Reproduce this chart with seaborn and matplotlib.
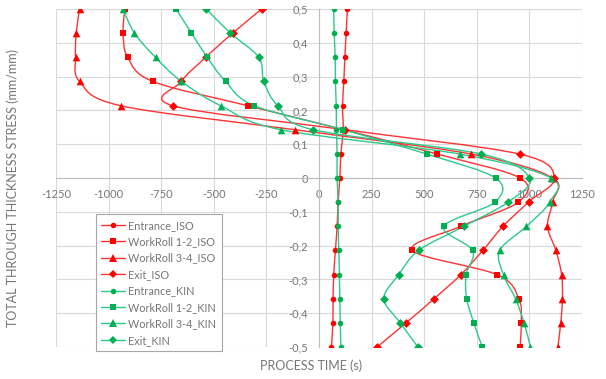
import numpy as np
import seaborn as sns
from matplotlib import pyplot as plt
from matplotlib.path import Path
from matplotlib.patches import PathPatch
from matplotlib.lines import Line2D

# thickness positions (mm/mm), same for every series
thickness = [0.5, 0.429, 0.357, 0.286, 0.214, 0.143, 0.071, 0.0,
             -0.071, -0.143, -0.214, -0.286, -0.357, -0.429, -0.5]

entrance_iso = [135, 129, 123, 118, 112, 115, 104, 99, 91, 86, 78, 70, 67, 66, 59]
workroll12_iso = [-923, -931, -909, -790, -338, 120, 562, 956, 948, 673, 444, 847, 950, 961, 956]
workroll34_iso = [-1138, -1154, -1157, -1138, -942, -115, 723, 1111, 1110, 1086, 1126, 1153, 1157, 1149, 1135]
exit_iso = [-273, -410, -539, -654, -695, 125, 953, 1119, 996, 874, 779, 674, 547, 413, 276]

entrance_kin = [70, 72, 77, 78, 82, 83, 86, 86, 91, 91, 94, 97, 99, 101, 104]
workroll12_kin = [-679, -606, -531, -444, -307, 115, 512, 839, 837, 593, 730, 699, 702, 736, 776]
workroll34_kin = [-932, -877, -777, -654, -467, -181, 669, 1104, 1096, 986, 859, 877, 934, 975, 1005]
exit_kin = [-535, -421, -286, -262, -196, -28, 771, 1000, 899, 688, 474, 379, 308, 387, 470]

series_names = ['Entrance_ISO', 'WorkRoll 1-2_ISO', 'WorkRoll 3-4_ISO', 'Exit_ISO',
                'Entrance_KIN', 'WorkRoll 1-2_KIN', 'WorkRoll 3-4_KIN', 'Exit_KIN']
series_values = [entrance_iso, workroll12_iso, workroll34_iso, exit_iso,
                 entrance_kin, workroll12_kin, workroll34_kin, exit_kin]

x_ticks = [-1250, -1000, -750, -500, -250, 0, 250, 500, 750, 1000, 1250]
y_ticks = [-0.5, -0.4, -0.3, -0.2, -0.1, 0, 0.1, 0.2, 0.3, 0.4, 0.5]

RED = '#FF0000'
GREEN = '#00B050'
RED_LINE = '#FF3333'
GREEN_LINE = '#2CC98C'
colors = [RED] * 4 + [GREEN] * 4
line_colors = [RED_LINE] * 4 + [GREEN_LINE] * 4
markers = ['o', 's', '^', 'D'] * 2
msizes = [4, 4.5, 5.5, 4.5] * 2

sns.set_theme(style='white')
plt.rcParams['font.family'] = ['Lato', 'DejaVu Sans']
TXT = '#767676'


def smooth_path(xs, ys, t=1/6):
    # excel-like smoothed line: catmull-rom converted to cubic bezier
    pts = np.column_stack([xs, ys]).astype(float)
    n = len(pts)
    verts = [pts[0]]
    codes = [Path.MOVETO]
    for i in range(n - 1):
        p0 = pts[max(i - 1, 0)]
        p1 = pts[i]
        p2 = pts[i + 1]
        p3 = pts[min(i + 2, n - 1)]
        verts += [p1 + (p2 - p0) * t, p2 - (p3 - p1) * t, p2]
        codes += [Path.CURVE4] * 3
    return Path(verts, codes)


fig, ax = plt.subplots(figsize=(6.06, 3.79), dpi=100)
fig.subplots_adjust(left=0.0924, right=0.9604, top=0.976, bottom=0.0844)

handles = []
for name, vals, c, lc, m, ms in zip(series_names, series_values, colors, line_colors, markers, msizes):
    ax.add_patch(PathPatch(smooth_path(vals, thickness), fill=False, edgecolor=lc, lw=1.0, zorder=3))
    sns.scatterplot(x=vals, y=thickness, ax=ax, color=c, marker=m, s=ms ** 2,
                    edgecolor=c, linewidth=0, zorder=4, legend=False)
    handles.append(Line2D([], [], color=lc, lw=1.0, marker=m, markersize=ms,
                          markerfacecolor=c, markeredgewidth=0, label=name))

ax.set_xlim(-1250, 1250)
ax.set_ylim(-0.5, 0.5)
ax.set_xticks(x_ticks)
ax.set_yticks(y_ticks)
ax.set_xticklabels([str(v) for v in x_ticks])
ax.set_yticklabels(['0' if v == 0 else f'{v:.1f}'.replace('.', ',') for v in y_ticks])
ax.tick_params(length=0, labelsize=8, labelcolor=TXT)
ax.tick_params(axis='x', pad=8)
ax.tick_params(axis='y', pad=8)

ax.grid(True, color='#D9D9D9', lw=0.8)
ax.set_axisbelow(True)
for s in ['top', 'right']:
    ax.spines[s].set_visible(False)
ax.spines['left'].set_position(('data', 0))
ax.spines['bottom'].set_position(('data', 0))
for s in ['left', 'bottom']:
    ax.spines[s].set_color('#BFBFBF')
    ax.spines[s].set_linewidth(0.8)

fig.text(311 / 606, 1 - 366 / 379, 'PROCESS TIME (s)', ha='center', va='center',
         fontsize=9, color=TXT)
fig.text(13 / 606, 1 - 188 / 379, 'TOTAL THROUGH THICKNESS STRESS (mm/mm)', ha='center',
         va='center', rotation=90, fontsize=9, color=TXT)

leg = ax.legend(handles=handles, loc='lower left', bbox_to_anchor=(0.0755, -0.012),
                borderaxespad=0, fontsize=7.8, frameon=True, fancybox=False,
                handlelength=2.2, handletextpad=0.3, labelspacing=0.5,
                borderpad=0.5)
leg.get_frame().set_edgecolor('#A6A6A6')
leg.get_frame().set_linewidth(0.8)
leg.get_frame().set_facecolor('white')
leg.get_frame().set_alpha(1)
for txt in leg.get_texts():
    txt.set_color(TXT)

fig.savefig('out.png', dpi=100)
